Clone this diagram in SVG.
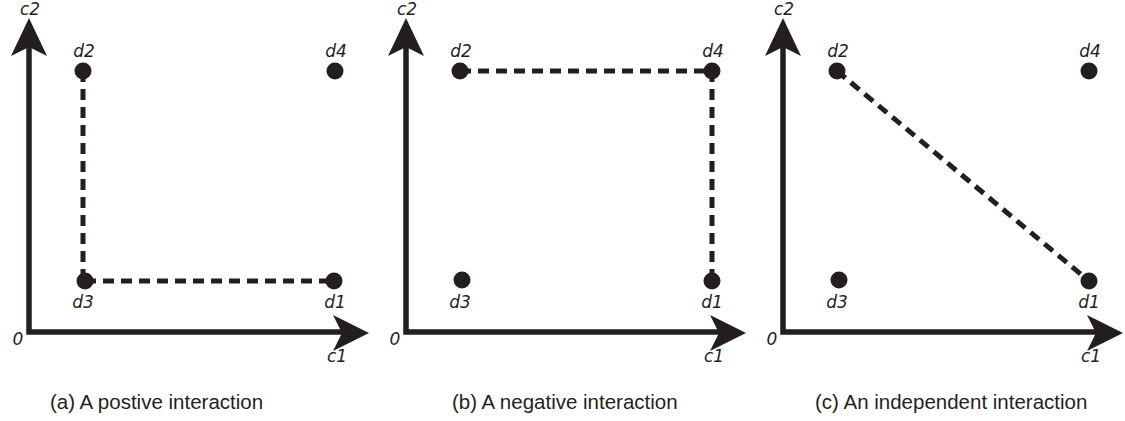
<svg xmlns="http://www.w3.org/2000/svg" width="1125" height="421" viewBox="0 0 1125 421">
  <defs>
    <style>
      .axis { stroke: #231f20; stroke-width: 5.5; fill: none; }
      .head { fill: #231f20; }
      .dot { fill: #231f20; }
      .dash { stroke: #231f20; stroke-width: 5; stroke-dasharray: 11 7; fill: none; }
      .lbl { font-family: "DejaVu Sans", sans-serif; font-style: italic; font-size: 17px; fill: #231f20; text-anchor: middle; }
      .cap { font-family: "Liberation Sans", Arial, sans-serif; font-size: 20.5px; fill: #231f20; }
    </style>
    <g id="axes">
      <polyline class="axis" points="29,45 29,332 345,332"/>
      <path class="head" d="M29,18 L47,56 L29,47 L11,56 Z"/>
      <path class="head" d="M369,333 L333,351 L342,333 L333,315 Z"/>
    </g>
  </defs>

  <!-- Panel (a) -->
  <g id="panel-a">
    <use href="#axes"/>
    <g id="connectors-a">
      <line class="dash" x1="83" y1="71" x2="83" y2="281"/>
      <line class="dash" x1="85" y1="281" x2="334" y2="281"/>
    </g>
    <g id="a-d2"><circle class="dot" cx="83" cy="71" r="8.5"/><text class="lbl" x="84" y="57">d2</text></g>
    <g id="a-d4"><circle class="dot" cx="335" cy="71" r="8.5"/><text class="lbl" x="336" y="57">d4</text></g>
    <g id="a-d3"><circle class="dot" cx="85" cy="281" r="8.5"/><text class="lbl" x="83" y="308">d3</text></g>
    <g id="a-d1"><circle class="dot" cx="334" cy="281" r="8.5"/><text class="lbl" x="335" y="308">d1</text></g>
    <text class="lbl" x="30" y="15">c2</text>
    <text class="lbl" x="18" y="345">0</text>
    <text class="lbl" x="337" y="362">c1</text>
    <text class="cap" x="50" y="409">(a) A postive interaction</text>
  </g>

  <!-- Panel (b) -->
  <g id="panel-b">
    <use href="#axes" transform="translate(377,0)"/>
    <g id="connectors-b">
      <line class="dash" x1="460" y1="71" x2="712" y2="71"/>
      <line class="dash" x1="712" y1="71" x2="712" y2="281"/>
    </g>
    <g id="b-d2"><circle class="dot" cx="460" cy="71" r="8.5"/><text class="lbl" x="461" y="57">d2</text></g>
    <g id="b-d4"><circle class="dot" cx="712" cy="71" r="8.5"/><text class="lbl" x="713" y="57">d4</text></g>
    <g id="b-d3"><circle class="dot" cx="462" cy="280" r="8.5"/><text class="lbl" x="460" y="308">d3</text></g>
    <g id="b-d1"><circle class="dot" cx="712" cy="281" r="8.5"/><text class="lbl" x="712" y="308">d1</text></g>
    <text class="lbl" x="407" y="15">c2</text>
    <text class="lbl" x="395" y="345">0</text>
    <text class="lbl" x="714" y="362">c1</text>
    <text class="cap" x="452" y="409">(b) A negative interaction</text>
  </g>

  <!-- Panel (c) -->
  <g id="panel-c">
    <use href="#axes" transform="translate(754,0)"/>
    <g id="connectors-c">
      <line class="dash" x1="837" y1="71" x2="1089" y2="281"/>
    </g>
    <g id="c-d2"><circle class="dot" cx="837" cy="71" r="8.5"/><text class="lbl" x="838" y="57">d2</text></g>
    <g id="c-d4"><circle class="dot" cx="1089" cy="71" r="8.5"/><text class="lbl" x="1090" y="57">d4</text></g>
    <g id="c-d3"><circle class="dot" cx="839" cy="280" r="8.5"/><text class="lbl" x="837" y="308">d3</text></g>
    <g id="c-d1"><circle class="dot" cx="1089" cy="281" r="8.5"/><text class="lbl" x="1089" y="308">d1</text></g>
    <text class="lbl" x="784" y="15">c2</text>
    <text class="lbl" x="772" y="345">0</text>
    <text class="lbl" x="1091" y="362">c1</text>
    <text class="cap" x="815" y="409">(c) An independent interaction</text>
  </g>
</svg>
